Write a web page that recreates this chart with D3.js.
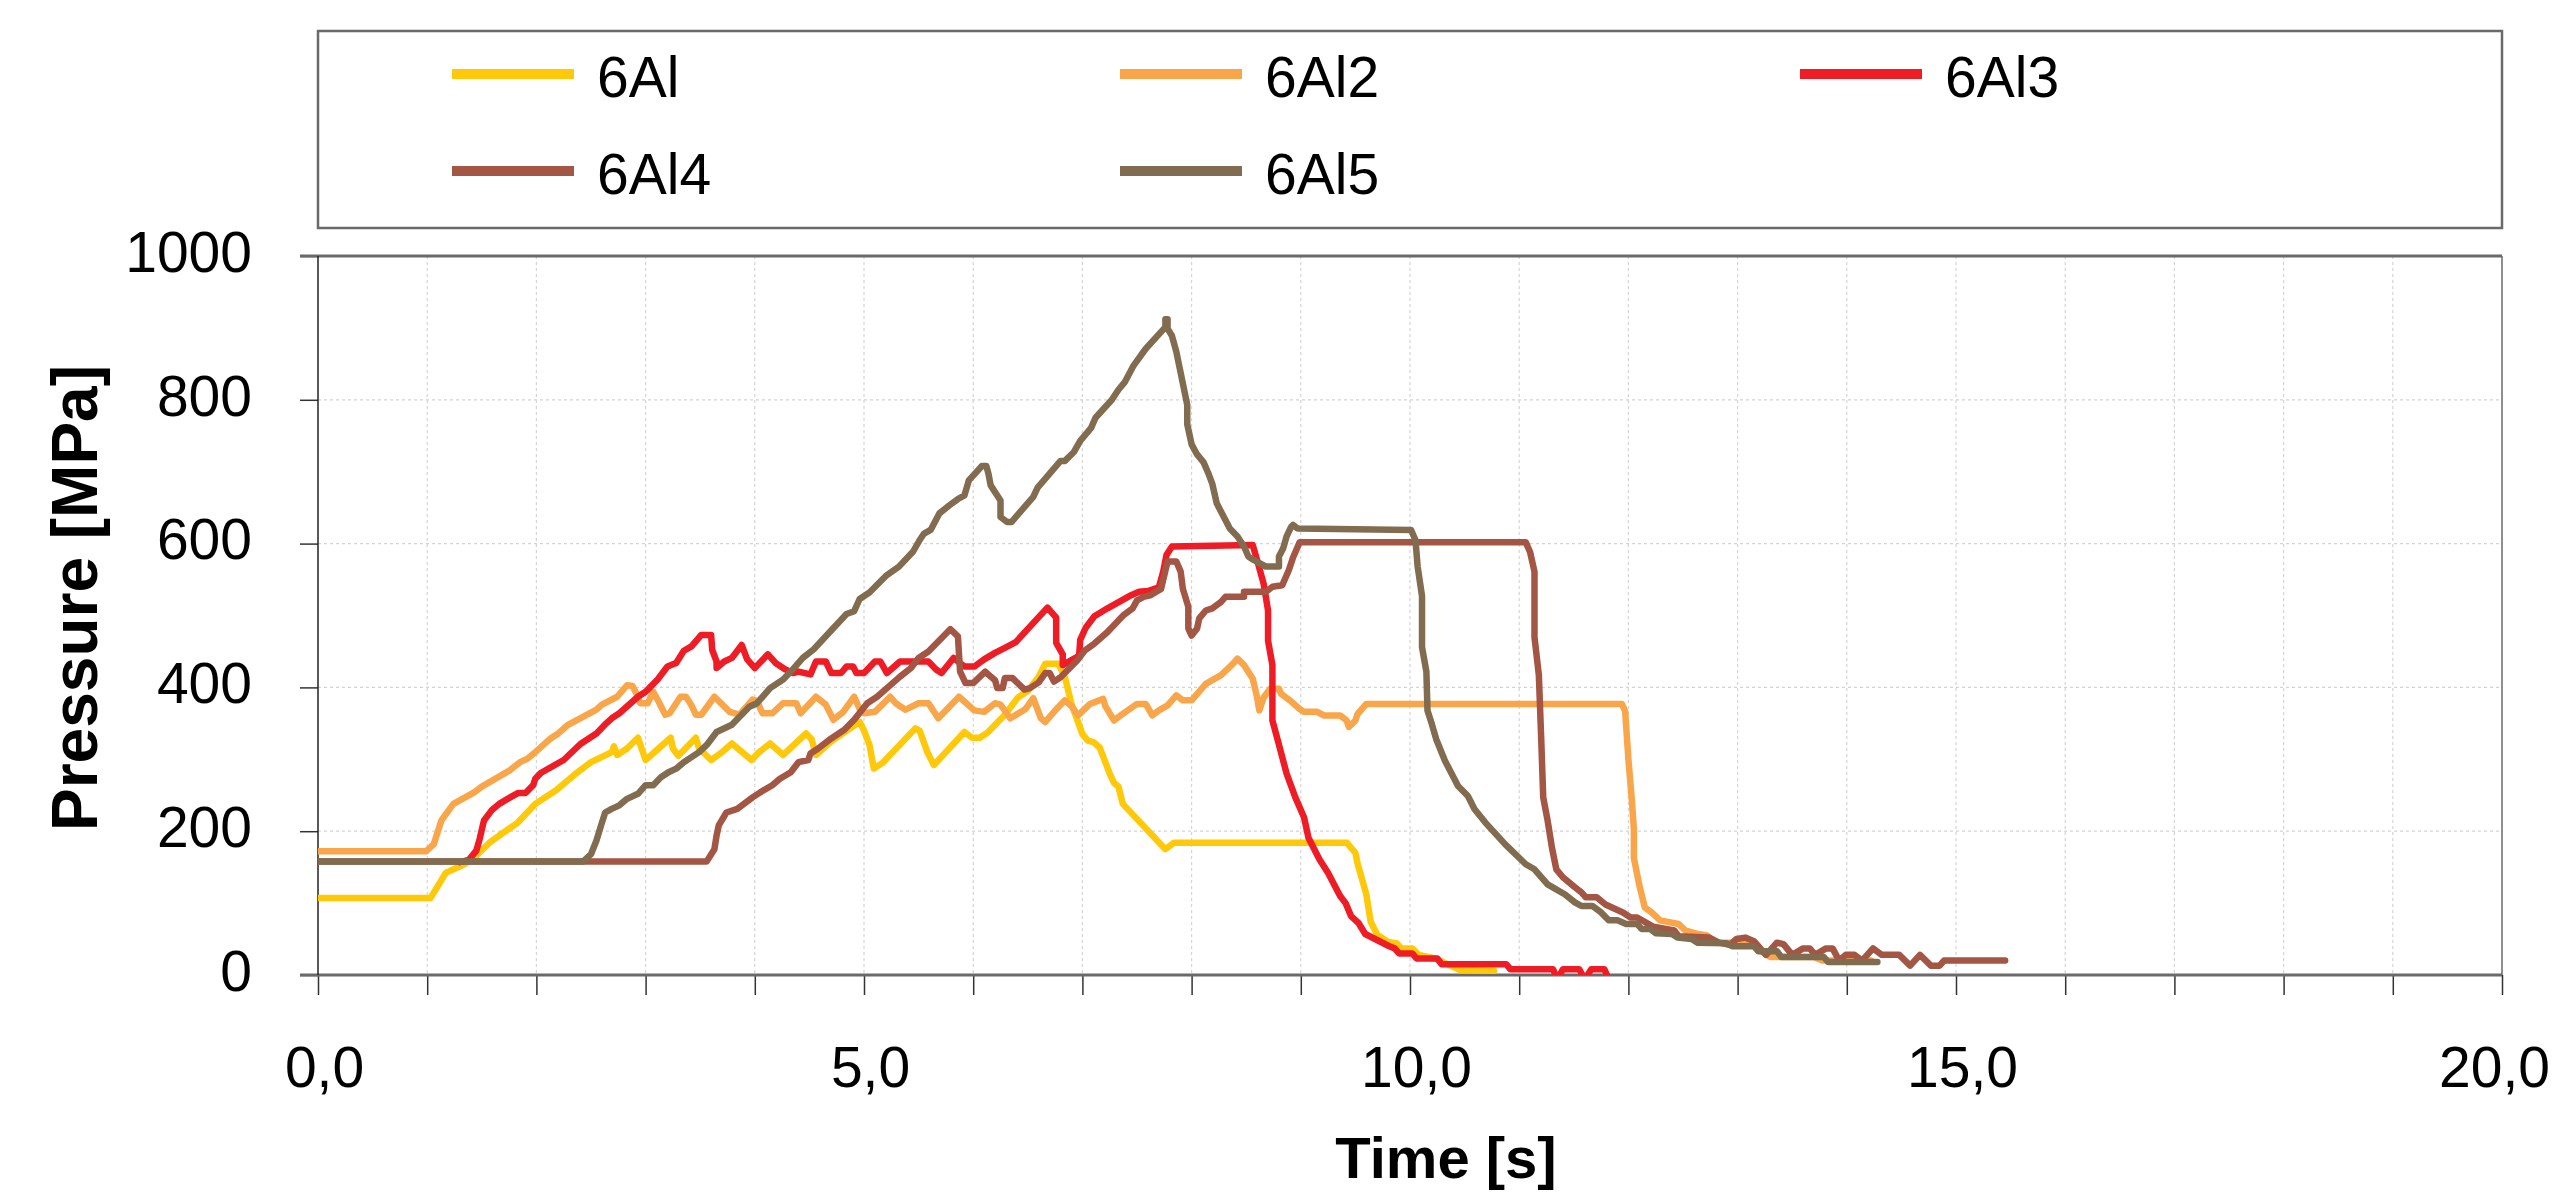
<!DOCTYPE html>
<html>
<head>
<meta charset="utf-8">
<script src="https://cdnjs.cloudflare.com/ajax/libs/d3/7.8.5/d3.min.js"></script>
<style>
  body { margin: 0; background: #fff; }
  text { font-family: "Liberation Sans", Arial, sans-serif; fill: #000; }
</style>
</head>
<body>
<div id="chart"></div>
<script>
// series names + colours
const seriesNames = ['6Al', '6Al2', '6Al3', '6Al4', '6Al5']
const seriesColors = ['#FFC90A', '#F9A64A', '#EE1C25', '#A35643', '#826C50']

// tick values
const xTicks = [0, 5, 10, 15, 20]
const yTicks = [0, 200, 400, 600, 800, 1000]

// [time s, pressure MPa]
const al1 = [[0,107],[1.03,107],[1.17,142],[1.34,154],[1.43,163],[1.57,184],[1.66,194],[1.83,212],[1.99,238],[2.18,257],[2.36,280],[2.5,296],[2.69,310],[2.71,318],[2.74,306],[2.83,315],[2.93,330],[2.97,312],[3.0,299],[3.23,330],[3.25,315],[3.3,305],[3.46,330],[3.49,315],[3.6,299],[3.7,310],[3.79,322],[3.97,299],[4.04,310],[4.14,322],[4.26,306],[4.47,336],[4.52,328],[4.56,306],[4.7,325],[4.96,352],[5.0,340],[5.05,320],[5.09,287],[5.17,295],[5.47,343],[5.51,340],[5.58,310],[5.64,292],[5.92,338],[5.99,330],[6.06,330],[6.13,337],[6.29,362],[6.41,386],[6.5,395],[6.6,415],[6.66,433],[6.78,433],[6.84,414],[6.9,377],[7.0,335],[7.05,326],[7.1,324],[7.16,316],[7.25,280],[7.29,267],[7.33,262],[7.37,238],[7.76,175],[7.84,184],[9.42,184],[9.5,170],[9.52,155],[9.6,112],[9.64,74],[9.7,56],[9.8,46],[9.88,44],[9.92,37],[10.02,37],[10.08,28],[10.23,23],[10.46,7],[10.77,6]]
const al2 = [[0,172],[0.99,172],[1.06,182],[1.13,215],[1.24,238],[1.43,254],[1.5,262],[1.76,285],[1.85,296],[1.92,301],[1.99,310],[2.13,329],[2.2,336],[2.29,348],[2.55,369],[2.6,376],[2.74,387],[2.83,403],[2.88,402],[2.92,390],[2.95,378],[3.02,378],[3.07,394],[3.12,380],[3.18,362],[3.22,364],[3.32,387],[3.37,387],[3.42,375],[3.46,362],[3.51,362],[3.63,387],[3.77,366],[3.86,362],[3.98,383],[4.02,381],[4.07,364],[4.16,364],[4.26,378],[4.38,378],[4.42,364],[4.56,387],[4.65,376],[4.72,355],[4.81,366],[4.91,387],[4.96,370],[5.0,364],[5.1,366],[5.24,387],[5.29,378],[5.38,369],[5.5,378],[5.59,378],[5.68,357],[5.87,387],[6.01,368],[6.1,366],[6.2,378],[6.25,376],[6.34,357],[6.48,370],[6.55,385],[6.62,357],[6.66,352],[6.74,366],[6.84,382],[6.9,374],[6.96,361],[7.07,377],[7.19,384],[7.21,374],[7.29,354],[7.35,361],[7.5,377],[7.58,377],[7.64,361],[7.7,368],[7.78,375],[7.86,389],[7.92,382],[8.0,382],[8.13,405],[8.27,417],[8.38,433],[8.42,440],[8.48,431],[8.56,412],[8.6,386],[8.62,368],[8.66,386],[8.72,398],[8.8,398],[8.82,391],[8.9,382],[8.99,370],[9.03,366],[9.15,366],[9.21,361],[9.36,361],[9.42,354],[9.44,345],[9.5,354],[9.52,363],[9.6,377],[11.94,377],[11.97,367],[12.0,300],[12.03,246],[12.05,203],[12.05,163],[12.1,125],[12.15,94],[12.22,86],[12.29,76],[12.46,71],[12.52,62],[12.64,57],[12.72,55],[12.8,45],[13.11,45],[13.19,35],[13.3,25],[13.7,25],[13.78,20],[14.22,20]]
const al3 = [[1.3,157],[1.38,160],[1.45,173],[1.48,189],[1.52,215],[1.59,229],[1.66,238],[1.76,247],[1.83,253],[1.9,253],[1.97,264],[1.99,273],[2.04,281],[2.25,299],[2.36,315],[2.41,322],[2.55,336],[2.64,350],[2.69,357],[2.76,364],[2.93,387],[3.0,394],[3.11,411],[3.2,429],[3.28,434],[3.35,451],[3.42,457],[3.51,473],[3.6,473],[3.61,452],[3.65,436],[3.65,427],[3.72,436],[3.79,441],[3.88,459],[3.93,439],[4.0,427],[4.12,446],[4.19,434],[4.28,425],[4.35,420],[4.4,422],[4.51,418],[4.56,436],[4.65,436],[4.7,420],[4.79,420],[4.84,429],[4.9,429],[4.93,420],[5.0,420],[5.1,436],[5.15,436],[5.21,420],[5.33,436],[5.59,436],[5.66,425],[5.71,420],[5.82,441],[5.92,429],[6.01,429],[6.1,439],[6.2,448],[6.29,455],[6.39,463],[6.68,511],[6.76,497],[6.76,462],[6.82,446],[6.82,431],[6.9,438],[6.97,444],[6.98,466],[7.03,483],[7.11,499],[7.23,510],[7.43,527],[7.52,533],[7.6,534],[7.7,539],[7.74,561],[7.77,584],[7.82,596],[8.56,598],[8.6,577],[8.66,544],[8.7,507],[8.7,465],[8.74,431],[8.74,354],[8.79,326],[8.87,280],[8.95,247],[9.03,219],[9.07,191],[9.17,161],[9.25,142],[9.36,110],[9.41,100],[9.46,82],[9.53,72],[9.59,57],[9.81,40],[9.86,37],[9.9,30],[10.02,30],[10.06,23],[10.25,23],[10.29,15],[10.88,15],[10.92,8],[11.31,8],[11.35,-6],[11.4,8],[11.55,8],[11.6,-6],[11.66,8],[11.78,8],[11.82,-6]]
const al4 = [[0,158],[3.56,158],[3.63,175],[3.65,194],[3.67,208],[3.74,226],[3.84,231],[3.98,247],[4.05,254],[4.16,264],[4.23,273],[4.33,282],[4.4,296],[4.49,299],[4.51,308],[4.58,315],[4.7,329],[4.82,341],[4.91,355],[5.03,378],[5.12,387],[5.21,399],[5.33,415],[5.43,427],[5.5,441],[5.59,450],[5.79,481],[5.86,471],[5.88,422],[5.93,406],[6.0,406],[6.11,422],[6.16,415],[6.2,410],[6.22,399],[6.27,399],[6.29,413],[6.36,413],[6.47,397],[6.52,399],[6.6,407],[6.66,420],[6.7,420],[6.74,408],[6.8,414],[6.95,437],[7.02,451],[7.11,461],[7.23,477],[7.38,501],[7.46,510],[7.5,521],[7.56,526],[7.62,528],[7.72,537],[7.78,575],[7.86,575],[7.9,561],[7.92,537],[7.97,512],[7.97,482],[8.0,472],[8.05,482],[8.07,496],[8.13,507],[8.19,510],[8.27,519],[8.31,526],[8.48,526],[8.48,533],[8.68,533],[8.74,540],[8.83,542],[8.89,563],[8.93,581],[8.99,602],[11.06,602],[11.1,588],[11.14,561],[11.14,470],[11.18,417],[11.2,335],[11.22,247],[11.26,215],[11.3,177],[11.34,147],[11.4,136],[11.51,122],[11.57,115],[11.61,108],[11.71,108],[11.79,98],[11.95,87],[12.02,80],[12.08,80],[12.23,67],[12.42,62],[12.46,54],[12.74,52],[12.83,45],[12.93,42],[12.99,50],[13.07,52],[13.15,47],[13.26,28],[13.36,45],[13.42,43],[13.5,28],[13.6,37],[13.66,37],[13.71,28],[13.81,37],[13.87,37],[13.93,20],[13.99,28],[14.07,28],[14.14,20],[14.24,37],[14.32,28],[14.48,28],[14.58,13],[14.67,28],[14.77,13],[14.85,13],[14.89,20],[15.45,20]]
const al5 = [[0,158],[2.43,158],[2.5,168],[2.55,187],[2.6,212],[2.63,226],[2.69,231],[2.76,236],[2.83,245],[2.93,252],[3.0,264],[3.07,264],[3.14,275],[3.21,282],[3.28,287],[3.35,296],[3.49,310],[3.56,320],[3.65,338],[3.79,348],[3.95,373],[4.02,378],[4.14,399],[4.26,411],[4.33,422],[4.44,441],[4.54,453],[4.68,476],[4.84,502],[4.91,506],[4.96,523],[5.05,532],[5.2,555],[5.32,568],[5.45,589],[5.51,605],[5.55,614],[5.61,619],[5.69,642],[5.78,653],[5.86,662],[5.92,667],[5.96,688],[6.08,708],[6.12,708],[6.14,697],[6.16,681],[6.25,660],[6.25,637],[6.31,630],[6.35,630],[6.55,665],[6.59,678],[6.8,715],[6.84,715],[6.92,727],[6.98,743],[7.08,761],[7.12,775],[7.27,800],[7.33,814],[7.39,825],[7.47,848],[7.58,871],[7.76,901],[7.76,912],[7.78,912],[7.78,899],[7.82,889],[7.86,867],[7.96,793],[7.96,766],[8.0,738],[8.05,724],[8.11,713],[8.15,699],[8.19,683],[8.23,656],[8.35,621],[8.42,610],[8.48,596],[8.52,582],[8.56,578],[8.68,568],[8.8,568],[8.8,582],[8.84,594],[8.87,610],[8.91,623],[8.93,626],[8.97,621],[10.01,619],[10.05,605],[10.07,568],[10.11,527],[10.11,456],[10.15,422],[10.16,368],[10.2,349],[10.24,328],[10.32,298],[10.44,263],[10.53,249],[10.59,231],[10.69,212],[10.87,182],[11.06,154],[11.14,147],[11.26,126],[11.42,112],[11.51,101],[11.57,96],[11.67,96],[11.75,87],[11.82,76],[11.9,76],[11.98,71],[12.08,71],[12.12,64],[12.2,64],[12.25,58],[12.4,57],[12.45,52],[12.58,50],[12.63,45],[12.9,44],[12.95,40],[13.15,40],[13.19,33],[13.36,33],[13.4,25],[13.79,25],[13.83,18],[14.28,18]]

const allSeries = [al1, al2, al3, al4, al5]

const W = 2556, H = 1196
const plotLeft = 318, plotRight = 2502, plotTop = 256, plotBottom = 975

const svg = d3.select('#chart')
    .append('svg')
    .attr('width', W)
    .attr('height', H)

const xScale = d3.scaleLinear().domain([0, 20]).range([plotLeft, plotRight])
const yScale = d3.scaleLinear().domain([0, 1000]).range([plotBottom, plotTop])

const gridColor = '#d4d4d4'
const frameColor = '#6a6a6a'

//vertical grid every second
svg.append('g')
    .selectAll('line')
    .data(d3.range(1, 20))
    .join('line')
    .attr('x1', d => xScale(d)).attr('x2', d => xScale(d))
    .attr('y1', plotTop).attr('y2', plotBottom)
    .attr('stroke', gridColor)
    .attr('stroke-width', 1.2)
    .attr('stroke-dasharray', '3,3')
//horizontal grid
svg.append('g')
    .selectAll('line')
    .data(yTicks.filter(d => d > 0 && d < 1000))
    .join('line')
    .attr('x1', plotLeft).attr('x2', plotRight)
    .attr('y1', d => yScale(d)).attr('y2', d => yScale(d))
    .attr('stroke', gridColor)
    .attr('stroke-width', 1.2)
    .attr('stroke-dasharray', '3,3')

const fmt = d => d3.format('.1f')(d).replace('.', ',')

//x axis, tick every second, label every 5
const xaxis = d3.axisBottom(xScale)
    .tickValues(d3.range(0, 21))
    .tickSize(20)
    .tickPadding(52)
    .tickFormat(d => xTicks.includes(d) ? fmt(d) : '')
const gx = svg.append('g')
    .attr('transform', `translate(0,${plotBottom})`)
    .call(xaxis)
gx.select('.domain').remove()
gx.selectAll('line').attr('stroke', '#333').attr('stroke-width', 1.5)
gx.selectAll('text')
    .attr('dx', d => d === 20 ? -8 : 6) // last one pulled in so it stays on the page
    .style('font-size', '57px')

//y axis
const yaxis = d3.axisLeft(yScale)
    .tickValues(yTicks)
    .tickSize(18)
    .tickPadding(48)
    .tickFormat(d3.format('d'))
const gy = svg.append('g')
    .attr('transform', `translate(${plotLeft},0)`)
    .call(yaxis)
gy.select('.domain').remove()
gy.selectAll('line').attr('stroke', '#333').attr('stroke-width', 1.5)
gy.selectAll('text')
    .attr('dy', '0.27em')
    .style('font-size', '57px')

//frame lines
svg.append('line')
    .attr('x1', plotLeft - 18).attr('x2', plotRight)
    .attr('y1', plotTop).attr('y2', plotTop)
    .attr('stroke', frameColor).attr('stroke-width', 3)
svg.append('line')
    .attr('x1', plotLeft - 18).attr('x2', plotRight)
    .attr('y1', plotBottom).attr('y2', plotBottom)
    .attr('stroke', frameColor).attr('stroke-width', 3)
svg.append('line')
    .attr('x1', plotLeft).attr('x2', plotLeft)
    .attr('y1', plotTop).attr('y2', plotBottom)
    .attr('stroke', '#222').attr('stroke-width', 1.5)
svg.append('line')
    .attr('x1', plotRight).attr('x2', plotRight)
    .attr('y1', plotTop).attr('y2', plotBottom)
    .attr('stroke', frameColor).attr('stroke-width', 1.5)

//clip so dips under zero get cut
svg.append('clipPath')
    .attr('id', 'plotclip')
    .append('rect')
    .attr('x', plotLeft).attr('y', plotTop - 5)
    .attr('width', plotRight - plotLeft).attr('height', plotBottom - plotTop + 5)

const line = d3.line()
    .x(d => xScale(d[0]))
    .y(d => yScale(d[1]))

svg.append('g')
    .attr('clip-path', 'url(#plotclip)')
    .selectAll('path')
    .data(allSeries)
    .join('path')
    .attr('d', line)
    .attr('fill', 'none')
    .attr('stroke', (d, i) => seriesColors[i])
    .attr('stroke-width', 6.5)
    .attr('stroke-linejoin', 'round')
    .attr('stroke-linecap', 'round')

//legend box
svg.append('rect')
    .attr('x', plotLeft).attr('y', 31)
    .attr('width', plotRight - plotLeft).attr('height', 197)
    .attr('fill', 'none')
    .attr('stroke', frameColor)
    .attr('stroke-width', 2.5)

const legendX = [452, 1120, 1800]
const legendY = [74, 171]
const legend = svg.append('g')
    .selectAll('g')
    .data(seriesNames)
    .join('g')
    .attr('transform', (d, i) => `translate(${legendX[i % 3]},${legendY[Math.floor(i / 3)]})`)
legend.append('line')
    .attr('x1', 0).attr('x2', 122)
    .attr('y1', 0).attr('y2', 0)
    .attr('stroke', (d, i) => seriesColors[i])
    .attr('stroke-width', 10)
legend.append('text')
    .attr('x', 145)
    .attr('y', 23)
    .style('font-size', '57px')
    .text(d => d)

//axis titles
svg.append('text')
    .attr('transform', 'translate(97,598) rotate(-90)')
    .style('text-anchor', 'middle')
    .style('font-size', '64px')
    .style('font-weight', 'bold')
    .text('Pressure [MPa]')
svg.append('text')
    .attr('x', 1446)
    .attr('y', 1178)
    .style('text-anchor', 'middle')
    .style('font-size', '58px')
    .style('font-weight', 'bold')
    .text('Time [s]')
</script>
</body>
</html>
